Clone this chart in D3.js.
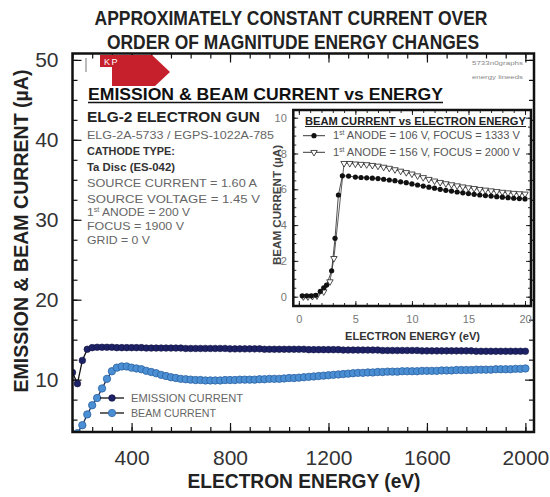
<!DOCTYPE html>
<html>
<head>
<meta charset="utf-8">
<script src="https://cdn.jsdelivr.net/npm/d3@7"></script>
<style>
body { margin: 0; background: #fff; }
svg { display: block; font-family: 'Liberation Sans', Arial, sans-serif; }
</style>
</head>
<body>
<svg width="550" height="497"></svg>
<script>
// main chart: electron energy (eV) vs current (uA)
const energy = [
  160, 180, 200, 220, 240, 260, 280, 300, 320, 340,
  360, 380, 400, 420, 440, 460, 480, 500, 520, 540,
  560, 580, 600, 620, 640, 660, 680, 700, 720, 740,
  760, 780, 800, 820, 840, 860, 880, 900, 920, 940,
  960, 980, 1000, 1020, 1040, 1060, 1080, 1100, 1120, 1140,
  1160, 1180, 1200, 1220, 1240, 1260, 1280, 1300, 1320, 1340,
  1360, 1380, 1400, 1420, 1440, 1460, 1480, 1500, 1520, 1540,
  1560, 1580, 1600, 1620, 1640, 1660, 1680, 1700, 1720, 1740,
  1760, 1780, 1800, 1820, 1840, 1860, 1880, 1900, 1920, 1940,
  1960, 1980, 2000
];
const emissionCurrent = [
  10.9, 9.5, 12.4, 13.8, 14.0, 14.05, 14.05, 14.05, 14.05, 14.0,
  14.0, 14.0, 14.0, 14.0, 14.0, 13.95, 13.95, 13.95, 13.95, 13.95,
  13.95, 13.95, 13.95, 13.9, 13.9, 13.9, 13.9, 13.9, 13.9, 13.9,
  13.9, 13.9, 13.85, 13.85, 13.85, 13.85, 13.85, 13.85, 13.85, 13.8,
  13.8, 13.8, 13.8, 13.8, 13.8, 13.8, 13.8, 13.8, 13.75, 13.75,
  13.75, 13.75, 13.75, 13.75, 13.75, 13.7, 13.7, 13.7, 13.7, 13.7,
  13.7, 13.7, 13.7, 13.65, 13.65, 13.65, 13.65, 13.65, 13.65, 13.65,
  13.65, 13.6, 13.6, 13.6, 13.6, 13.6, 13.6, 13.6, 13.6, 13.6,
  13.6, 13.6, 13.55, 13.55, 13.55, 13.55, 13.55, 13.55, 13.55, 13.55,
  13.55, 13.55, 13.55
];
const beamCurrent = [
  2.0, 3.3, 4.3, 5.65, 6.8, 7.7, 8.9, 10.1, 11.05, 11.5,
  11.65, 11.65, 11.5, 11.4, 11.3, 11.1, 10.95, 10.8, 10.6, 10.45,
  10.3, 10.2, 10.1, 10.05, 10.0, 9.95, 9.95, 9.9, 9.9, 9.9,
  9.9, 9.95, 9.95, 9.95, 10.0, 10.0, 10.0, 10.0, 10.05, 10.05,
  10.1, 10.1, 10.1, 10.15, 10.2, 10.2, 10.25, 10.3, 10.35, 10.4,
  10.45, 10.5, 10.55, 10.6, 10.65, 10.7, 10.75, 10.8, 10.85, 10.85,
  10.9, 10.9, 10.95, 10.95, 11.0, 11.0, 11.0, 11.05, 11.05, 11.05,
  11.05, 11.1, 11.1, 11.1, 11.1, 11.15, 11.15, 11.15, 11.2, 11.2,
  11.2, 11.2, 11.25, 11.25, 11.25, 11.25, 11.3, 11.3, 11.3, 11.3,
  11.35, 11.35, 11.4
];
const xTicks = [400, 800, 1200, 1600, 2000];
const yTicks = [10, 20, 30, 40, 50];

// inset: beam current vs electron energy (0-20 eV)
const insetEnergyA = [
  0.3, 0.7, 1.1, 1.5, 1.9, 2.2, 2.45, 2.9, 3.2, 3.5, 3.85, 4.4,
  5.0, 5.5, 6.0, 6.5, 7.0, 7.5, 8.0, 8.5, 9.0, 9.5,
  10.0, 10.5, 11.0, 11.5, 12.0, 12.5, 13.0, 13.5, 14.0, 14.5,
  15.0, 15.5, 16.0, 16.5, 17.0, 17.5, 18.0, 18.5, 19.0, 19.5, 20.0
];
const insetCurrentA = [
  0.05, 0.05, 0.05, 0.08, 0.3, 0.5, 0.65, 1.45, 3.26, 5.68, 6.75, 6.74,
  6.68, 6.66, 6.64, 6.62, 6.6, 6.56, 6.52, 6.48, 6.42, 6.37,
  6.3, 6.24, 6.18, 6.12, 6.06, 6.0, 5.94, 5.9, 5.85, 5.8,
  5.76, 5.72, 5.68, 5.65, 5.62, 5.59, 5.56, 5.53, 5.5, 5.48, 5.46
];
const insetEnergyB = [
  0.4, 0.8, 1.2, 1.6, 2.2, 2.75, 3.1, 4.0, 4.5,
  5.0, 5.5, 6.0, 6.5, 7.0, 7.5, 8.0, 8.5, 9.0, 9.5,
  10.0, 10.5, 11.0, 11.5, 12.0, 12.5, 13.0, 13.5, 14.0, 14.5,
  15.0, 15.5, 16.0, 16.5, 17.0, 17.5, 18.0, 18.5, 19.0, 19.5, 20.0
];
const insetCurrentB = [
  0.0, 0.0, 0.02, 0.05, 0.28, 0.84, 2.14, 7.45, 7.45,
  7.42, 7.4, 7.38, 7.34, 7.3, 7.24, 7.18, 7.1, 7.02, 6.94,
  6.86, 6.76, 6.66, 6.56, 6.47, 6.39, 6.32, 6.26, 6.2, 6.14,
  6.09, 6.05, 6.0, 5.96, 5.92, 5.88, 5.84, 5.81, 5.78, 5.76, 5.74
];
const insetXTicks = [0, 5, 10, 15, 20];
const insetYTicks = [0, 2, 4, 6, 8, 10];

const seriesNames = ['EMISSION CURRENT', 'BEAM CURRENT'];
const insetSeriesNames = [
  ['1', 'st', ' ANODE = 106 V, FOCUS = 1333 V'],
  ['1', 'st', ' ANODE = 156 V, FOCUS = 2000 V']
];

const plot = { left: 72.5, right: 534, top: 53.5, bottom: 432 };
const inset = { left: 293.3, right: 531, top: 110, bottom: 306 };

const navy = '#1d2166';
const blue = '#4a8fd3';

const svg = d3.select('svg');

function styleAxis (g, size, color) {
    g.select('.domain').remove();
    g.selectAll('line').attr('stroke', '#111').attr('stroke-width', 1.2);
    g.attr('font-family', null).attr('font-size', size);
    g.selectAll('text').attr('fill', color);
}

function drawTicks (g, x, y, box, o) {
    const fmt = d3.format('d');
    const xMinor = d3.axisBottom(x).tickValues(o.xMinor).tickSize(-o.minor).tickFormat('');
    const xMajor = d3.axisBottom(x).tickValues(o.xTicks).tickSize(-o.major).tickPadding(o.xPad).tickFormat(fmt);
    const xTop = d3.axisTop(x).tickValues(o.xMinor).tickSize(-o.minor).tickFormat('');
    const xTopMajor = d3.axisTop(x).tickValues(o.xTicks).tickSize(-o.major).tickFormat('');
    const yMinor = d3.axisLeft(y).tickValues(o.yMinor).tickSize(-o.minor).tickFormat('');
    const yMajor = d3.axisLeft(y).tickValues(o.yTicks).tickSize(-o.major).tickPadding(o.yPad).tickFormat(fmt);
    const yRight = d3.axisRight(y).tickValues(o.yMinor).tickSize(-o.minor).tickFormat('');
    const yRightMajor = d3.axisRight(y).tickValues(o.yTicks).tickSize(-o.major).tickFormat('');

    [[xMinor, 0, box.bottom], [xMajor, 0, box.bottom], [xTop, 0, box.top], [xTopMajor, 0, box.top],
     [yMinor, box.left, 0], [yMajor, box.left, 0], [yRight, box.right, 0], [yRightMajor, box.right, 0]]
        .forEach(([axis, tx, ty]) => {
            const a = g.append('g').attr('transform', `translate(${tx}, ${ty})`).call(axis);
            styleAxis(a, o.font, o.color);
        });
}

function drawTitle () {
    const lines = [
        ['APPROXIMATELY CONSTANT CURRENT OVER', 291, 25, 393],
        ['ORDER OF MAGNITUDE ENERGY CHANGES', 293, 48.5, 372]
    ];
    lines.forEach(([t, cx, cy, w]) => {
        svg.append('text')
            .attr('x', cx).attr('y', cy)
            .attr('text-anchor', 'middle')
            .attr('font-size', 20).attr('font-weight', 'bold')
            .attr('fill', '#222')
            .attr('textLength', w).attr('lengthAdjust', 'spacingAndGlyphs')
            .text(t);
    });
}

function drawAxisTitles () {
    svg.append('text')
        .attr('transform', 'translate(28, 231) rotate(-90)')
        .attr('text-anchor', 'middle')
        .attr('font-size', 20).attr('font-weight', 'bold').attr('fill', '#222')
        .attr('textLength', 323).attr('lengthAdjust', 'spacingAndGlyphs')
        .text('EMISSION & BEAM CURRENT (\u00B5A)');

    svg.append('text')
        .attr('x', 304).attr('y', 488)
        .attr('text-anchor', 'middle')
        .attr('font-size', 21).attr('font-weight', 'bold').attr('fill', '#222')
        .attr('textLength', 233).attr('lengthAdjust', 'spacingAndGlyphs')
        .text('ELECTRON ENERGY (eV)');
}

function drawMain () {
    const x = d3.scaleLinear().domain([160, 2035]).range([plot.left, plot.right]);
    const y = d3.scaleLinear().domain([3.45, 50.8]).range([plot.bottom, plot.top]);

    svg.append('defs').append('clipPath').attr('id', 'mainClip')
        .append('rect')
        .attr('x', plot.left).attr('y', plot.top)
        .attr('width', plot.right - plot.left).attr('height', plot.bottom - plot.top);

    drawTicks(svg.append('g'), x, y, plot, {
        xMinor: d3.range(160, 2001, 80), xTicks: xTicks,
        yMinor: d3.range(5, 50.1, 2.5), yTicks: yTicks,
        minor: 5, major: 9, xPad: 18, yPad: 14, font: 21, color: '#333'
    });

    const emission = energy.map((e, i) => ({ e: e, v: emissionCurrent[i] }));
    const beam = energy.map((e, i) => ({ e: e, v: beamCurrent[i] }));
    const line = d3.line().x((d) => x(d.e)).y((d) => y(d.v));

    const data = svg.append('g').attr('clip-path', 'url(#mainClip)');
    data.append('path').attr('d', line(emission))
        .attr('fill', 'none').attr('stroke', '#111').attr('stroke-width', 1.3);
    data.append('path').attr('d', line(beam))
        .attr('fill', 'none').attr('stroke', '#1a2550').attr('stroke-width', 1.3);

    data.selectAll('.em').data(emission).enter().append('circle')
        .attr('cx', (d) => x(d.e)).attr('cy', (d) => y(d.v)).attr('r', 3.3)
        .attr('fill', navy).attr('stroke', '#10133f').attr('stroke-width', 0.6);
    data.selectAll('.bm').data(beam).enter().append('circle')
        .attr('cx', (d) => x(d.e)).attr('cy', (d) => y(d.v)).attr('r', 3.7)
        .attr('fill', blue).attr('stroke', '#2c62a2').attr('stroke-width', 0.8);

    // legend
    const styles = [[navy, '#10133f', 3.3, 112], [blue, '#2c62a2', 3.7, 85]];
    seriesNames.forEach((name, i) => {
        const ly = 398 + i * 15;
        const [fill, stroke, r, w] = styles[i];
        svg.append('line').attr('x1', 100).attr('x2', 124).attr('y1', ly).attr('y2', ly)
            .attr('stroke', '#111').attr('stroke-width', 1.3);
        svg.append('circle').attr('cx', 112).attr('cy', ly).attr('r', r)
            .attr('fill', fill).attr('stroke', stroke).attr('stroke-width', 0.7);
        svg.append('text').attr('x', 131).attr('y', ly + 4)
            .attr('font-size', 11.5).attr('fill', '#666')
            .attr('textLength', w).attr('lengthAdjust', 'spacingAndGlyphs')
            .text(name);
    });

    svg.append('rect')
        .attr('x', plot.left).attr('y', plot.top)
        .attr('width', plot.right - plot.left).attr('height', plot.bottom - plot.top)
        .attr('fill', 'none').attr('stroke', '#111').attr('stroke-width', 2.5);
}

function drawNotes () {
    // logo
    svg.append('polygon')
        .attr('points', '100,55 152,55 170,72 155,86 112,86 112,67 100,67')
        .attr('fill', '#c6202c');
    svg.append('text').attr('x', 104).attr('y', 65)
        .attr('font-size', 9).attr('fill', '#fff').attr('letter-spacing', 1.5)
        .text('KP');
    svg.append('line').attr('x1', 86).attr('x2', 86).attr('y1', 58).attr('y2', 72)
        .attr('stroke', '#777').attr('stroke-width', 1);

    svg.append('text').attr('x', 472).attr('y', 65)
        .attr('font-size', 6).attr('fill', '#888')
        .attr('textLength', 51).attr('lengthAdjust', 'spacingAndGlyphs')
        .text('5733n0graphs');
    svg.append('text').attr('x', 472).attr('y', 79)
        .attr('font-size', 6).attr('fill', '#888')
        .attr('textLength', 51).attr('lengthAdjust', 'spacingAndGlyphs')
        .text('energy lineeds');

    svg.append('text').attr('x', 88).attr('y', 100)
        .attr('font-size', 17).attr('font-weight', 'bold').attr('fill', '#111')
        .attr('textLength', 355).attr('lengthAdjust', 'spacingAndGlyphs')
        .text('EMISSION & BEAM CURRENT vs  ENERGY');
    svg.append('line').attr('x1', 88).attr('x2', 443).attr('y1', 102.5).attr('y2', 102.5)
        .attr('stroke', '#111').attr('stroke-width', 1.5);

    const info = [
        [['ELG-2 ELECTRON GUN'], 121.7, 'bold', 14, '#222', 173],
        [['ELG-2A-5733 / EGPS-1022A-785'], 139.3, 'normal', 11.5, '#666', 187],
        [['CATHODE TYPE:'], 155, 'bold', 11, '#333', 88],
        [['Ta Disc (ES-042)'], 170.7, 'bold', 11, '#333', 88],
        [['SOURCE CURRENT = 1.60 A'], 187.3, 'normal', 11.5, '#666', 170],
        [['SOURCE VOLTAGE = 1.45 V'], 202.5, 'normal', 11.5, '#666', 173],
        [['1', 'st', ' ANODE = 200 V'], 216, 'normal', 11.5, '#666', 103],
        [['FOCUS = 1900 V'], 229.7, 'normal', 11.5, '#666', 97],
        [['GRID = 0 V'], 243.5, 'normal', 11.5, '#666', 63]
    ];
    info.forEach(([parts, ty, weight, size, fill, w]) => {
        const t = svg.append('text').attr('x', 87).attr('y', ty)
            .attr('font-size', size).attr('font-weight', weight).attr('fill', fill)
            .attr('textLength', w).attr('lengthAdjust', 'spacingAndGlyphs');
        addParts(t, parts, size);
    });
}

function addParts (t, parts, size) {
    if (parts.length === 1) { t.text(parts[0]); return; }
    t.append('tspan').text(parts[0]);
    t.append('tspan').attr('font-size', size * 0.6).attr('dy', -size * 0.35).text(parts[1]);
    t.append('tspan').attr('dy', size * 0.35).text(parts[2]);
}

function drawInset () {
    const x = d3.scaleLinear().domain([-0.49, 20.53]).range([inset.left, inset.right]);
    const y = d3.scaleLinear().domain([-0.52, 10.43]).range([inset.bottom, inset.top]);

    svg.append('rect')
        .attr('x', inset.left).attr('y', inset.top)
        .attr('width', inset.right - inset.left).attr('height', inset.bottom - inset.top)
        .attr('fill', '#fff');

    const g = svg.append('g');
    drawTicks(g, x, y, inset, {
        xMinor: d3.range(0, 20.1, 1), xTicks: insetXTicks,
        yMinor: d3.range(0, 10.1, 0.5), yTicks: insetYTicks,
        minor: 3, major: 5, xPad: 9, yPad: 6.5, font: 11, color: '#777'
    });
    g.selectAll('line').attr('stroke-width', 0.9);

    const a = insetEnergyA.map((e, i) => ({ e: e, v: insetCurrentA[i] }));
    const b = insetEnergyB.map((e, i) => ({ e: e, v: insetCurrentB[i] }));
    const line = d3.line().x((d) => x(d.e)).y((d) => y(d.v));
    g.append('path').attr('d', line(b)).attr('fill', 'none').attr('stroke', '#333').attr('stroke-width', 0.8);
    g.append('path').attr('d', line(a)).attr('fill', 'none').attr('stroke', '#222').attr('stroke-width', 0.8);

    const tri = d3.symbol().type(d3.symbolTriangle).size(18);
    g.selectAll('.tb').data(b).enter().append('path')
        .attr('d', tri)
        .attr('transform', (d) => `translate(${x(d.e)}, ${y(d.v)}) rotate(180)`)
        .attr('fill', '#fff').attr('stroke', '#222').attr('stroke-width', 0.8);
    g.selectAll('.ca').data(a).enter().append('circle')
        .attr('cx', (d) => x(d.e)).attr('cy', (d) => y(d.v)).attr('r', 2.6)
        .attr('fill', '#111');

    // inset title and legend
    svg.append('text').attr('x', 305).attr('y', 124.5)
        .attr('font-size', 10.5).attr('font-weight', 'bold').attr('fill', '#222')
        .attr('textLength', 221).attr('lengthAdjust', 'spacingAndGlyphs')
        .text('BEAM CURRENT vs ELECTRON ENERGY');
    svg.append('line').attr('x1', 305).attr('x2', 526).attr('y1', 126.5).attr('y2', 126.5)
        .attr('stroke', '#222').attr('stroke-width', 1);

    insetSeriesNames.forEach((parts, i) => {
        const ly = 135.7 + i * 16.6;
        svg.append('line').attr('x1', 303).attr('x2', 325).attr('y1', ly).attr('y2', ly)
            .attr('stroke', '#222').attr('stroke-width', 0.9);
        if (i === 0) {
            svg.append('circle').attr('cx', 314).attr('cy', ly).attr('r', 2.6).attr('fill', '#111');
        } else {
            svg.append('path').attr('d', tri)
                .attr('transform', `translate(314, ${ly}) rotate(180)`)
                .attr('fill', '#fff').attr('stroke', '#222').attr('stroke-width', 0.8);
        }
        const t = svg.append('text').attr('x', 333).attr('y', ly + 3.6)
            .attr('font-size', 11.5).attr('fill', '#555')
            .attr('textLength', 187).attr('lengthAdjust', 'spacingAndGlyphs');
        addParts(t, parts, 11.5);
    });

    svg.append('text')
        .attr('transform', 'translate(280.5, 205) rotate(-90)')
        .attr('text-anchor', 'middle')
        .attr('font-size', 10.5).attr('font-weight', 'bold').attr('fill', '#444')
        .attr('textLength', 120).attr('lengthAdjust', 'spacingAndGlyphs')
        .text('BEAM CURRENT (\u00B5A)');
    svg.append('text')
        .attr('x', 412.5).attr('y', 339.5)
        .attr('text-anchor', 'middle')
        .attr('font-size', 10.5).attr('font-weight', 'bold').attr('fill', '#333')
        .attr('textLength', 135).attr('lengthAdjust', 'spacingAndGlyphs')
        .text('ELECTRON ENERGY (eV)');

    svg.append('rect')
        .attr('x', inset.left).attr('y', inset.top)
        .attr('width', inset.right - inset.left).attr('height', inset.bottom - inset.top)
        .attr('fill', 'none').attr('stroke', '#111').attr('stroke-width', 2.5);
}

drawTitle();
drawAxisTitles();
drawMain();
drawNotes();
drawInset();
</script>
</body>
</html>
